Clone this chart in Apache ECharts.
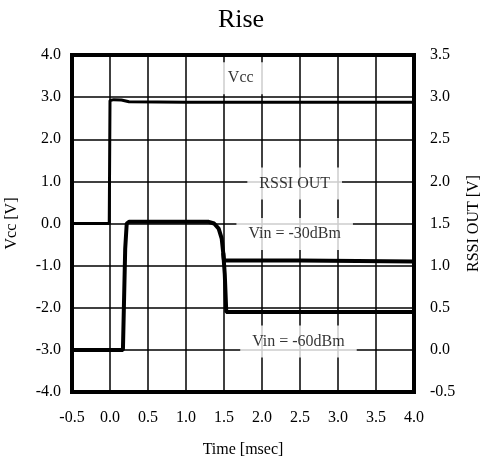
<!DOCTYPE html>
<html>
<head>
<meta charset="utf-8">
<script src="https://cdn.jsdelivr.net/npm/echarts@6/dist/echarts.min.js"></script>
<style>
    html, body { margin: 0; padding: 0; background: #fff; }
    #riseChart { width: 482px; height: 460px; }
</style>
</head>
<body>
<div id="riseChart"></div>
<script>
// time [msec], Vcc [V] (left axis)
let vccTrace = [
    [-0.5, 0.0], [-0.01, 0.0], [0.0, 2.92], [0.05, 2.94], [0.15, 2.93],
    [0.25, 2.89], [1.0, 2.88], [2.5, 2.88], [4.0, 2.88]
];
// time [msec], RSSI OUT [V] (right axis)
let rssi60Trace = [
    [-0.5, 0.0], [0.17, 0.0], [0.2, 1.2], [0.22, 1.5], [0.25, 1.52],
    [1.3, 1.52], [1.37, 1.5], [1.43, 1.44], [1.47, 1.32], [1.49, 1.15],
    [1.51, 0.9], [1.53, 0.45], [2.5, 0.45], [4.0, 0.45]
];
let rssi30Trace = [
    [1.49, 1.15], [1.5, 1.06], [2.5, 1.06], [4.0, 1.05]
];
// annotations, in time / Vcc coordinates
let notes = [
    { text: 'Vcc', x: 1.72, y: 3.45 },
    { text: 'RSSI OUT', x: 2.43, y: 0.95 },
    { text: 'Vin = -30dBm', x: 2.43, y: -0.25 },
    { text: 'Vin = -60dBm', x: 2.48, y: -2.8 }
];

let serif = 'Liberation Serif';
let riseChart = echarts.init(document.getElementById('riseChart'));

function tickLabel(margin) {
    return {
        margin: margin,
        fontFamily: serif,
        fontSize: 16,
        color: '#000',
        formatter: function (v) { return v.toFixed(1); }
    };
}

let riseChartOption = {
    animation: false,
    backgroundColor: '#ffffff',
    textStyle: {
        fontFamily: serif,
        color: '#000'
    },
    title: {
        text: 'Rise',
        left: 'center',
        top: 2,
        textStyle: {
            fontFamily: serif,
            fontWeight: 'normal',
            fontSize: 26,
            color: '#000'
        }
    },
    grid: {
        left: 72,
        right: 68,
        top: 55,
        bottom: 68,
        outerBoundsMode: 'none',
        containLabel: false,
        show: true,
        borderColor: '#000',
        borderWidth: 4,
        backgroundColor: 'transparent'
    },
    xAxis: {
        type: 'value',
        min: -0.5,
        max: 4.0,
        interval: 0.5,
        name: 'Time [msec]',
        nameLocation: 'middle',
        nameGap: 50,
        nameTextStyle: { fontFamily: serif, fontSize: 16, color: '#000' },
        axisLine: { show: false },
        axisTick: { show: false },
        axisLabel: tickLabel(18),
        splitLine: { show: true, lineStyle: { color: '#000', width: 1.5 } }
    },
    yAxis: [{
        type: 'value',
        min: -4,
        max: 4,
        interval: 1,
        name: 'Vcc [V]',
        nameLocation: 'middle',
        nameRotate: 90,
        nameGap: 52,
        nameTextStyle: { fontFamily: serif, fontSize: 16, color: '#000' },
        axisLine: { show: false },
        axisTick: { show: false },
        axisLabel: tickLabel(11),
        splitLine: { show: true, lineStyle: { color: '#000', width: 1.5 } }
    }, {
        type: 'value',
        position: 'right',
        min: -0.5,
        max: 3.5,
        interval: 0.5,
        name: 'RSSI OUT [V]',
        nameLocation: 'middle',
        nameRotate: 90,
        nameGap: 46,
        nameTextStyle: { fontFamily: serif, fontSize: 16, color: '#000' },
        axisLine: { show: false },
        axisTick: { show: false },
        axisLabel: tickLabel(16),
        splitLine: { show: false }
    }],
    series: [{
        name: 'Vcc',
        type: 'line',
        yAxisIndex: 0,
        symbol: 'none',
        lineStyle: { color: '#000', width: 3 },
        data: vccTrace
    }, {
        name: 'RSSI -60dBm',
        type: 'line',
        yAxisIndex: 1,
        symbol: 'none',
        lineStyle: { color: '#000', width: 4 },
        data: rssi60Trace
    }, {
        name: 'RSSI -30dBm',
        type: 'line',
        yAxisIndex: 1,
        symbol: 'none',
        lineStyle: { color: '#000', width: 4 },
        data: rssi30Trace
    }, {
        name: 'notes',
        type: 'scatter',
        yAxisIndex: 0,
        symbolSize: 0,
        z: 5,
        silent: true,
        label: {
            show: true,
            position: 'inside',
            formatter: function (p) { return p.data.text; },
            fontFamily: serif,
            fontSize: 16,
            color: '#000',
            backgroundColor: '#fff',
            padding: [8, 12]
        },
        data: notes.map(function (n) {
            return { value: [n.x, n.y], text: n.text };
        })
    }]
};
riseChart.setOption(riseChartOption);
</script>
</body>
</html>
